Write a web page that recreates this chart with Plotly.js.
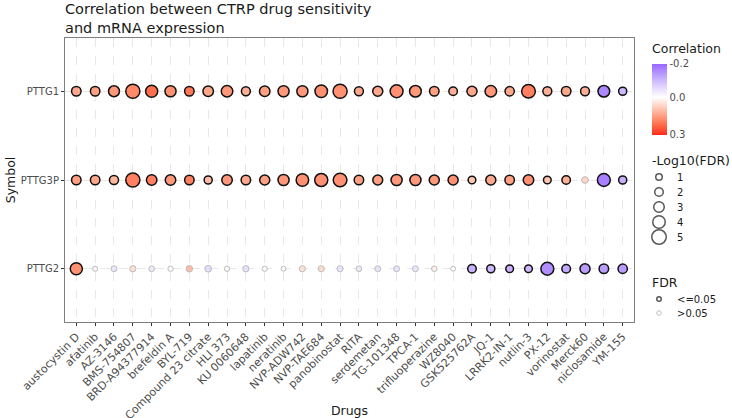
<!DOCTYPE html>
<html>
<head>
<meta charset="utf-8">
<script src="https://cdn.plot.ly/plotly-3.0.1.min.js"></script>
<style>html,body{margin:0;padding:0;background:#fff;}#chart{width:732px;height:418px;}</style>
</head>
<body>
<div id="chart"></div>
<script>
// ---------------- data ----------------
const drugs = ["austocystin D","afatinib","AZ-3146","BMS-754807","BRD-A94377914","brefeldin A","BYL-719",
  "Compound 23 citrate","HLI 373","KU 0060648","lapatinib","neratinib","NVP-ADW742","NVP-TAE684",
  "panobinostat","RITA","serdemetan","TG-101348","TPCA-1","trifluoperazine","WZ8040","GSK525762A",
  "JQ-1","LRRK2-IN-1","nutlin-3","PX-12","vorinostat","Merck60","niclosamide","YM-155"];
const genes = ["PTTG1","PTTG3P","PTTG2"];   // top to bottom

// correlation
const corrPTTG1  = [0.12,0.13,0.14,0.16,0.19,0.15,0.18,0.12,0.14,0.11,0.13,0.14,0.14,0.15,0.15,
                    0.12,0.12,0.15,0.14,0.13,0.11,0.12,0.14,0.12,0.17,0.11,0.12,0.11,-0.19,-0.12];
const corrPTTG3P = [0.13,0.12,0.10,0.17,0.17,0.14,0.17,0.09,0.14,0.12,0.13,0.14,0.15,0.15,0.15,
                    0.13,0.13,0.14,0.14,0.14,0.15,0.08,0.12,0.13,0.15,0.08,0.11,0.08,-0.20,-0.13];
const corrPTTG2  = [0.15,0.01,-0.06,0.06,-0.05,0.01,0.12,-0.08,0.01,-0.07,0.01,0.00,0.05,0.06,-0.06,
                    -0.05,-0.06,-0.06,-0.06,0.03,0.00,-0.13,-0.12,-0.13,-0.12,-0.18,-0.14,-0.16,-0.16,-0.16];
// -log10(FDR)
const fdrPTTG1  = [2.5,2.5,3.2,4.8,3.8,3.3,2.5,3.0,3.5,2.2,3.0,3.3,3.3,4.0,4.8,
                   2.2,2.8,4.2,3.6,2.5,2.0,2.8,3.5,2.4,4.6,2.2,2.5,2.2,3.6,1.8];
const fdrPTTG3P = [2.5,2.5,2.3,4.8,3.0,3.0,2.5,1.8,3.0,2.5,2.8,3.3,4.0,4.3,4.6,
                   2.5,2.7,3.3,3.3,2.8,2.8,1.6,2.8,2.5,3.0,1.6,2.0,1.1,4.2,1.8];
const fdrPTTG2  = [3.8,0.3,0.7,0.9,0.6,0.4,1.0,1.1,0.4,0.9,0.4,0.2,0.8,0.8,0.8,
                   0.6,0.7,0.7,0.7,0.5,0.2,2.0,1.8,1.6,1.6,4.2,2.1,2.8,2.5,2.4];

const corrByGene = {PTTG1: corrPTTG1, PTTG3P: corrPTTG3P, PTTG2: corrPTTG2};
const fdrByGene  = {PTTG1: fdrPTTG1,  PTTG3P: fdrPTTG3P,  PTTG2: fdrPTTG2};

const sizeLegendVals = [1,2,3,4,5];
const fdrLegendLabels = ["<=0.05", ">0.05"];
const corrLow = -0.235, corrHigh = 0.265;          // colour scale limits
const corrTickText = ["0.3","0.0","-0.2"];

// ---------------- styling helpers ----------------
const FONT = "DejaVu Sans, Liberation Sans, sans-serif";
const sigCut = -Math.log10(0.05);
const sz = v => 4.5 + 2 * v;

const traces = genes.map(g => {
  const f = fdrByGene[g];
  const sig = f.map(v => v >= sigCut);
  return {
    type: "scatter", mode: "markers",
    x: drugs, y: drugs.map(() => g),
    xaxis: "x", yaxis: "y",
    showlegend: false, hoverinfo: "x+y",
    marker: {
      size: f.map(sz),
      color: corrByGene[g].map(c => -c),
      coloraxis: "coloraxis",
      opacity: sig.map(s => s ? 1 : 0.75),
      line: { color: sig.map(s => s ? "#111111" : "#a6a6a6"), width: sig.map(s => s ? 1.5 : 1) }
    }
  };
});

// legend keys (overlay axes measured in pixels)
const lx = 659;
const sizeY = [177,192,207,222,237];
traces.push({
  type: "scatter", mode: "markers", xaxis: "x2", yaxis: "y2", showlegend: false, hoverinfo: "skip",
  x: sizeLegendVals.map(() => lx), y: sizeY,
  marker: { size: sizeLegendVals.map(sz), color: "rgba(255,255,255,0)", line: {color: "#111", width: 1.5} }
});
traces.push({
  type: "scatter", mode: "markers", xaxis: "x2", yaxis: "y2", showlegend: false, hoverinfo: "skip",
  x: [lx, lx], y: [299, 313],
  marker: { size: [4.5, 4.5], color: "rgba(255,255,255,0)", line: {color: ["#111", "#a6a6a6"], width: [1.5, 1]} }
});

const annotations = [];
const ann = (text, x, y, size, anchor) => annotations.push({
  text, x, y, xref: "x2", yref: "y2", showarrow: false, xanchor: anchor || "left", yanchor: "middle",
  font: {family: FONT, size: size, color: "#1a1a1a"}
});
ann("Correlation", 650, 48, 12.5);
ann("-Log10(FDR)", 650, 160, 12.5);
sizeLegendVals.forEach((v, i) => ann(String(v), 675, sizeY[i], 10));
ann("FDR", 650, 282, 12.5);
ann(fdrLegendLabels[0], 675, 299, 10);
ann(fdrLegendLabels[1], 675, 313, 10);

const plotW = 732 - 65;
const layout = {
  width: 732, height: 418,
  margin: {l: 65, r: 0, t: 38, b: 96, autoexpand: false},
  paper_bgcolor: "#ffffff", plot_bgcolor: "#ffffff",
  font: {family: FONT, color: "#4d4d4d"},
  title: {
    text: "Correlation between CTRP drug sensitivity<br>and mRNA expression",
    x: 65/732, xref: "container", xanchor: "left",
    y: 1 - 14/418, yref: "container", yanchor: "top",
    font: {family: FONT, size: 14.5, color: "#1a1a1a"}
  },
  xaxis: {
    domain: [0, 569/plotW],
    type: "category", categoryorder: "array", categoryarray: drugs,
    range: [-0.6, drugs.length - 0.4],
    tickangle: -45, tickfont: {size: 11, color: "#4d4d4d", family: FONT},
    ticks: "outside", ticklen: 3, tickcolor: "#333", tickwidth: 1,
    showgrid: true, gridcolor: "#dedede", griddash: "dash", gridwidth: 0.7,
    showline: true, mirror: true, linecolor: "#7f7f7f", linewidth: 1,
    zeroline: false, automargin: false,
    title: {text: "Drugs", font: {size: 12.5, color: "#1a1a1a", family: FONT}, standoff: 3}
  },
  yaxis: {
    type: "category", categoryorder: "array", categoryarray: genes.slice().reverse(),
    range: [-0.6, genes.length - 0.4],
    tickfont: {size: 10, color: "#4d4d4d", family: FONT},
    ticks: "outside", ticklen: 3, tickcolor: "#333", tickwidth: 1,
    showgrid: true, gridcolor: "#dedede", griddash: "dash", gridwidth: 0.7,
    showline: true, mirror: true, linecolor: "#7f7f7f", linewidth: 1,
    zeroline: false, automargin: false,
    title: {text: "Symbol", font: {size: 12.5, color: "#1a1a1a", family: FONT}, standoff: 2}
  },
  xaxis2: { domain: [(640-65)/plotW, 1], range: [640, 732], visible: false, fixedrange: true },
  yaxis2: { anchor: "x2", domain: [0, 1], range: [322, 38], visible: false, fixedrange: true },
  coloraxis: {
    cmin: -corrHigh, cmax: -corrLow,
    colorscale: [
      [0, "#FF2B1C"], [0.1325, "#FF6846"], [0.265, "#FF9E81"], [0.3975, "#FFCFBF"],
      [0.53, "#FFFFFF"], [0.6475, "#E8DEFF"], [0.765, "#CEB9FF"], [0.8825, "#B391FF"], [1, "#9966FF"]
    ],
    colorbar: {
      xref: "container", x: 652/732, xanchor: "left",
      yref: "container", y: 1 - 94/418, yanchor: "top",
      lenmode: "pixels", len: 71, thicknessmode: "pixels", thickness: 15,
      outlinewidth: 0, xpad: 0, ypad: 0, ticks: "",
      tickvals: [-corrHigh, 0, -corrLow], ticktext: corrTickText,
      tickfont: {size: 10, color: "#4d4d4d", family: FONT}
    }
  },
  annotations: annotations
};

Plotly.newPlot("chart", traces, layout, {displayModeBar: false, staticPlot: true});
</script>
</body>
</html>
